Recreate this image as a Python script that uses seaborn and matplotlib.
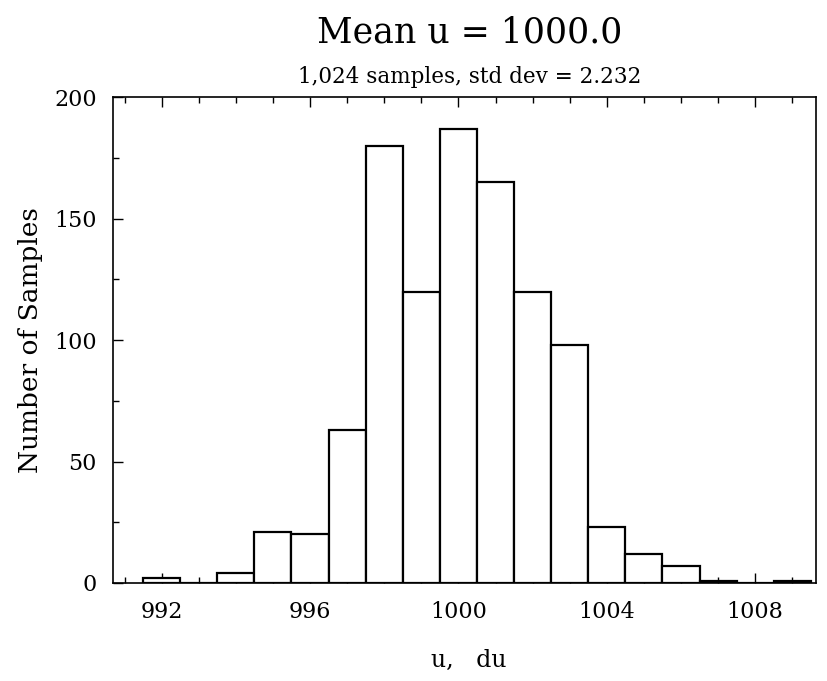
import numpy as np
import pandas as pd
import matplotlib
matplotlib.use("Agg")
import matplotlib.pyplot as plt
import seaborn as sns
from matplotlib.ticker import MultipleLocator

# Data (bin centers and counts)
u_values = [992, 993, 994, 995, 996, 997, 998, 999, 1000, 1001,
            1002, 1003, 1004, 1005, 1006, 1007, 1008, 1009]
counts = [2, 0, 4, 21, 20, 63, 180, 120, 187, 165,
          120, 98, 23, 12, 7, 1, 0, 1]
x_ticks = [992, 996, 1000, 1004, 1008]
y_ticks = [0, 50, 100, 150, 200]
title = "Mean u = 1000.0"
subtitle = "1,024 samples, std dev = 2.232"

df = pd.DataFrame({"u": u_values, "n": counts})

sns.set_style("white")
plt.rcParams["font.family"] = ["DejaVu Serif"]
plt.rcParams["text.color"] = "black"
plt.rcParams["axes.labelcolor"] = "black"
plt.rcParams["xtick.color"] = "black"
plt.rcParams["ytick.color"] = "black"

fig = plt.figure(figsize=(8.28, 6.81), dpi=100)
ax = fig.add_axes([0.137, 0.144, 0.849, 0.713])

sns.histplot(data=df, x="u", weights="n", discrete=True, ax=ax,
             color="white", edgecolor="black", linewidth=1.6, alpha=1.0)

ax.set_xlim(990.7, 1009.65)
ax.set_ylim(0, 200)
ax.set_xticks(x_ticks)
ax.set_yticks(y_ticks)
ax.xaxis.set_minor_locator(MultipleLocator(1))
ax.yaxis.set_minor_locator(MultipleLocator(25))
ax.tick_params(axis="both", which="major", direction="in", length=7,
               width=1, labelsize=16, top=True, bottom=True,
               left=True, right=False, colors="black")
ax.tick_params(axis="x", which="major", pad=13)
ax.tick_params(axis="y", which="major", pad=12)
ax.tick_params(axis="both", which="minor", direction="in", length=4,
               width=1, top=True, bottom=True, left=True, right=False,
               colors="black")
for s in ax.spines.values():
    s.set_linewidth(1.2)
    s.set_color("black")

ax.set_xlabel("u,   du", fontsize=17, color="black")
ax.set_ylabel("Number of Samples", fontsize=19, labelpad=8, color="black")
ax.xaxis.set_label_coords(0.505, -0.135)

fig.text(0.567, 0.952, title, ha="center", va="center", fontsize=25,
         color="black")
fig.text(0.567, 0.887, subtitle, ha="center", va="center", fontsize=15.5,
         color="black")

fig.savefig("out.png", dpi=100, facecolor="white")
